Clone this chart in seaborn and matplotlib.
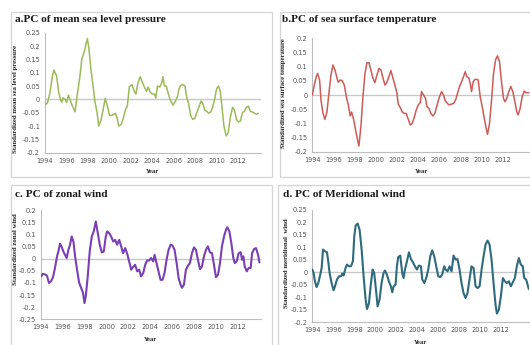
import numpy as np
import pandas as pd
import matplotlib
matplotlib.use("Agg")
import matplotlib.pyplot as plt
import seaborn as sns
from matplotlib.patches import Rectangle

sns.set_theme(style="white")

# ---------------- data ----------------
a_year = [1994.0, 1994.22, 1994.46, 1994.7, 1994.83, 1995.08, 1995.26, 1995.45, 1995.57, 1995.68,
          1995.88, 1996.0, 1996.18, 1996.37, 1996.55, 1996.8, 1996.98, 1997.23, 1997.42, 1997.66,
          1997.94, 1998.09, 1998.28, 1998.46, 1998.65, 1998.83, 1999.0, 1999.2, 1999.38, 1999.6,
          1999.78, 2000.0, 2000.18, 2000.37, 2000.55, 2000.71, 2000.86, 2001.08, 2001.29, 2001.48,
          2001.66, 2001.85, 2002.09, 2002.31, 2002.46, 2002.65, 2002.86, 2003.08, 2003.26, 2003.45,
          2003.6, 2003.78, 2004.0, 2004.18, 2004.31, 2004.46, 2004.68, 2004.86, 2004.98, 2005.11,
          2005.29, 2005.48, 2005.69, 2005.91, 2006.15, 2006.34, 2006.46, 2006.62, 2006.83, 2007.02,
          2007.2, 2007.38, 2007.57, 2007.75, 2007.94, 2008.12, 2008.31, 2008.52, 2008.68, 2008.86,
          2009.05, 2009.23, 2009.42, 2009.6, 2009.78, 2009.97, 2010.15, 2010.31, 2010.46, 2010.65,
          2010.86, 2011.05, 2011.23, 2011.45, 2011.63, 2011.82, 2012.0, 2012.18, 2012.37, 2012.55,
          2012.74, 2012.92, 2013.11, 2013.29, 2013.48, 2013.69, 2013.85]
a_val = [-0.019, -0.015, 0.025, 0.09, 0.11, 0.088, 0.03, -0.003, -0.01, 0.006,
         0.0, -0.012, 0.016, -0.006, -0.025, -0.047, 0.012, 0.08, 0.15, 0.18,
         0.228, 0.19, 0.11, 0.055, -0.01, -0.045, -0.1, -0.08, -0.045, 0.003,
         -0.02, -0.06, -0.06, -0.057, -0.052, -0.07, -0.1, -0.095, -0.07, -0.04,
         -0.025, 0.048, 0.055, 0.03, 0.02, 0.062, 0.085, 0.062, 0.045, 0.03,
         0.046, 0.028, 0.02, 0.02, 0.005, 0.05, 0.046, 0.062, 0.085, 0.05,
         0.05, 0.02, -0.005, -0.022, -0.006, 0.013, 0.038, 0.052, 0.056, 0.05,
         0.006, -0.02, -0.062, -0.075, -0.072, -0.05, -0.03, -0.006, -0.015, -0.04,
         -0.045, -0.052, -0.047, -0.03, 0.0, 0.04, 0.05, 0.03, -0.025, -0.1,
         -0.137, -0.125, -0.07, -0.03, -0.04, -0.075, -0.085, -0.082, -0.05, -0.045,
         -0.03, -0.025, -0.045, -0.047, -0.052, -0.056, -0.052]

b_x = [22, 28, 34, 38, 44, 48, 54, 60, 66, 72, 78, 84, 90, 96, 100, 106, 112, 118, 124, 130,
       136, 140, 146, 152, 158, 162, 168, 174, 180, 186, 192, 198, 204, 210, 216, 222, 228, 234,
       240, 246, 252, 258, 264, 270, 276, 280, 286, 292, 298, 304, 310, 316, 322, 328, 334, 340,
       346, 350, 356, 362, 366, 372, 378, 384, 390, 396, 402, 410, 416, 420, 426, 432, 440, 446,
       452, 458, 464, 470, 476, 481, 486, 492, 497, 500, 505, 510, 516, 520, 526, 532, 538, 544,
       548, 554, 560, 566, 572, 578, 584, 590, 596, 600, 606, 612, 618, 624, 630, 636, 640, 646,
       652, 658, 664, 672]
b_year = [round(1994 + (x - 22) / 31.8, 2) for x in b_x]
b_val = [0.0, 0.035, 0.065, 0.076, 0.053, -0.018, -0.065, -0.086, -0.06, 0.006,
         0.07, 0.106, 0.088, 0.06, 0.045, 0.053, 0.05, 0.035, -0.006, -0.035,
         -0.074, -0.06, -0.086, -0.124, -0.16, -0.18, -0.11, -0.006, 0.076, 0.114,
         0.114, 0.088, 0.06, 0.044, 0.07, 0.094, 0.088, 0.06, 0.035, 0.044,
         0.065, 0.086, 0.06, 0.035, 0.006, -0.032, -0.044, -0.06, -0.065, -0.065,
         -0.086, -0.106, -0.1, -0.08, -0.053, -0.035, -0.027, 0.012, 0.0, -0.012,
         -0.041, -0.047, -0.065, -0.074, -0.065, -0.039, -0.012, 0.012, 0.0, -0.018,
         -0.027, -0.035, -0.032, -0.03, -0.018, 0.006, 0.03, 0.047, 0.065, 0.082,
         0.065, 0.06, 0.035, 0.012, 0.047, 0.055, 0.055, 0.053, -0.006, -0.041,
         -0.082, -0.118, -0.139, -0.1, -0.018, 0.076, 0.124, 0.138, 0.118, 0.047,
         -0.012, -0.024, -0.012, 0.012, 0.03, 0.012, -0.024, -0.06, -0.07, -0.047,
         -0.006, 0.014, 0.008, 0.008]

c_x = [18, 24, 30, 36, 42, 48, 54, 60, 66, 70, 75, 80, 85, 90, 95, 100, 105, 110, 115, 120,
       126, 132, 138, 144, 148, 152, 158, 164, 170, 176, 182, 188, 194, 200, 206, 212, 216, 222,
       228, 234, 240, 246, 252, 258, 264, 270, 276, 282, 288, 294, 300, 306, 312, 318, 324, 330,
       336, 342, 348, 354, 358, 364, 370, 376, 382, 388, 394, 400, 406, 412, 418, 424, 430, 436,
       440, 446, 452, 458, 464, 470, 476, 482, 488, 494, 500, 506, 512, 518, 524, 530, 536, 542,
       548, 554, 560, 566, 572, 576, 582, 588, 594, 598, 604, 610, 616, 620, 624, 628, 634, 640,
       646, 650, 656, 662, 668, 672]
c_year = [round(1994 + (x - 18) / 32.7, 2) for x in c_x]
c_val = [-0.073, -0.062, -0.065, -0.07, -0.1, -0.093, -0.076, -0.038, 0.01, 0.03,
         0.062, 0.048, 0.03, 0.016, 0.003, 0.037, 0.058, 0.092, 0.071, 0.01,
         -0.045, -0.098, -0.12, -0.141, -0.183, -0.155, -0.073, 0.03, 0.092, 0.113,
         0.154, 0.106, 0.058, 0.026, 0.03, 0.092, 0.113, 0.106, 0.092, 0.071,
         0.078, 0.058, 0.078, 0.051, 0.023, 0.044, 0.021, -0.011, -0.045, -0.034,
         -0.025, -0.052, -0.045, -0.073, -0.059, -0.025, -0.007, -0.007, 0.003, -0.011,
         0.016, -0.018, -0.052, -0.087, -0.087, -0.059, -0.004, 0.037, 0.058, 0.054,
         0.037, -0.018, -0.08, -0.107, -0.12, -0.107, -0.045, -0.029, -0.018, 0.023,
         0.047, 0.037, -0.004, -0.043, -0.032, 0.01, 0.037, 0.051, 0.026, 0.023,
         -0.025, -0.076, -0.066, -0.018, 0.051, 0.092, 0.12, 0.13, 0.113, 0.065,
         0.003, -0.018, -0.011, 0.023, 0.027, -0.004, 0.01, -0.032, -0.052, -0.038,
         -0.038, 0.023, 0.04, 0.044, 0.016, -0.015]

d_x = [22, 26, 30, 35, 40, 46, 50, 54, 60, 66, 70, 74, 80, 86, 90, 96, 102, 108, 112, 116,
       122, 126, 132, 138, 144, 148, 152, 158, 164, 170, 176, 182, 186, 192, 198, 203, 208, 214,
       218, 224, 230, 236, 240, 246, 252, 258, 262, 266, 272, 276, 280, 286, 292, 296, 300, 306,
       312, 318, 324, 330, 336, 342, 348, 352, 358, 364, 370, 376, 382, 388, 394, 400, 406, 412,
       418, 422, 428, 434, 440, 446, 452, 458, 464, 470, 476, 482, 488, 494, 500, 506, 512, 518,
       524, 530, 536, 542, 548, 554, 560, 566, 572, 576, 582, 588, 594, 600, 606, 612, 618, 624,
       630, 636, 642, 648, 654, 658, 664, 668, 672]
d_year = [round(1994 + (x - 22) / 31.5, 2) for x in d_x]
d_val = [0.011, -0.003, -0.036, -0.059, -0.043, -0.009, 0.017, 0.091, 0.084, 0.08,
         0.044, -0.003, -0.043, -0.072, -0.056, -0.029, -0.016, -0.016, -0.005, -0.013,
         0.017, 0.031, 0.024, 0.024, 0.044, 0.144, 0.187, 0.195, 0.17, 0.091,
         -0.016, -0.109, -0.147, -0.123, -0.043, 0.011, -0.003, -0.083, -0.136, -0.109,
         -0.043, -0.003, 0.007, -0.009, -0.036, -0.056, -0.08, -0.056, -0.049, 0.024,
         0.061, 0.067, -0.003, -0.023, 0.011, 0.044, 0.08, 0.053, 0.04, 0.024,
         0.011, 0.027, 0.024, -0.029, -0.043, -0.023, 0.011, 0.064, 0.088, 0.064,
         0.024, -0.016, -0.019, -0.009, 0.024, 0.011, 0.004, 0.024, 0.004, 0.067,
         0.051, 0.053, 0.011, -0.043, -0.083, -0.103, -0.083, -0.029, 0.024, 0.017,
         -0.056, -0.063, -0.056, 0.011, 0.064, 0.111, 0.127, 0.111, 0.051, -0.043,
         -0.129, -0.165, -0.149, -0.096, -0.023, -0.036, -0.043, -0.036, -0.056, -0.04,
         -0.023, 0.024, 0.057, 0.031, 0.024, -0.023, -0.029, -0.049, -0.067]

titles = ["a.PC of mean sea level pressure", "b.PC of sea surface temperature",
          "c. PC of zonal wind", "d. PC of Meridional wind"]
ylabels = ["Standardized mean sea level pressure", "Standardized sea surface temperature",
           "Standardized zonal wind", "Standardized meridional  wind"]
colors = ["#9BBB59", "#CD5B58", "#7B3FB5", "#2F6B7E"]

# ---------------- figure ----------------
W, H = 530, 345
fig = plt.figure(figsize=(W / 100, H / 100), dpi=100)
fig.patch.set_facecolor("white")

def box(x0, y0, x1, y1):
    return [x0 / W, 1 - y1 / H, (x1 - x0) / W, (y1 - y0) / H]

serif = ["Liberation Serif", "DejaVu Serif"]

panels = [
    dict(rect=box(45, 32.7, 261, 152.7), ylim=(-0.2, 0.25), xlim=(1994, 2014.1), years=a_year, vals=a_val,
         border=(11, 12, 272, 177), title_xy=(15, 20), ylab_xy=(15.5, 99), year_y=171.5, lw=1.1),
    dict(rect=box(312.3, 38.3, 530, 151.7), ylim=(-0.2, 0.2), xlim=(1994, 2014.55), years=b_year, vals=b_val,
         border=(280, 12, 540, 177), title_xy=(282, 20), ylab_xy=(284, 93), year_y=171.5, lw=1.1),
    dict(rect=box(41, 210.3, 260.5, 319.3), ylim=(-0.25, 0.2), xlim=(1994, 2014.1), years=c_year, vals=c_val,
         border=(11, 185, 272, 360), title_xy=(15, 195), ylab_xy=(15.5, 249), year_y=339.5, lw=1.5),
    dict(rect=box(312.3, 209.8, 529, 322.3), ylim=(-0.2, 0.25), xlim=(1994, 2014.65), years=d_year, vals=d_val,
         border=(278, 185, 540, 360), title_xy=(283, 195), ylab_xy=(286, 263), year_y=342, lw=1.5),
]

for i, p in enumerate(panels):
    x0, y0, x1, y1 = p["border"]
    fig.patches.append(Rectangle((x0 / W, 1 - y1 / H), (x1 - x0) / W, (y1 - y0) / H,
                                 transform=fig.transFigure, fill=False, edgecolor="#D4D4D4",
                                 linewidth=0.9, zorder=0))
    ax = fig.add_axes(p["rect"])
    ax.set_facecolor("none")
    df = pd.DataFrame({"Year": p["years"], "Value": p["vals"]})
    ax.axhline(0, color="#C8C8C8", lw=1.0, zorder=1)
    sns.lineplot(data=df, x="Year", y="Value", ax=ax, color=colors[i], lw=p["lw"], zorder=3)
    ax.set_xlim(*p["xlim"])
    ax.set_ylim(*p["ylim"])
    lo, hi = p["ylim"]
    yt = np.round(np.arange(lo, hi + 0.001, 0.05), 2)
    ax.set_yticks(yt)
    ax.set_yticklabels([("0" if abs(v) < 1e-9 else f"{v:g}") for v in yt])
    ax.set_xticks(range(1994, 2014))
    ax.set_xticklabels([str(y) if y % 2 == 0 else "" for y in range(1994, 2014)])
    ax.tick_params(axis="both", which="major", labelsize=4.8, labelcolor="#555555",
                   color="#BDBDBD", length=2, width=0.6, direction="out", pad=1.5)
    for s in ["top", "right"]:
        ax.spines[s].set_visible(False)
    for s in ["left", "bottom"]:
        ax.spines[s].set_color("#BDBDBD")
        ax.spines[s].set_linewidth(0.8)
    ax.set_xlabel("")
    ax.set_ylabel("")
    tx, ty = p["title_xy"]
    fig.text(tx / W, 1 - ty / H, titles[i], family=serif, fontweight="bold", fontsize=8.1,
             color="#1a1a1a", ha="left", va="center")
    lx, ly = p["ylab_xy"]
    fig.text(lx / W, 1 - ly / H, ylabels[i], family=serif, fontweight="bold", fontsize=4.9,
             color="#222222", ha="center", va="center", rotation=90)
    cx = (p["rect"][0] + p["rect"][0] + p["rect"][2]) / 2
    fig.text(cx, 1 - p["year_y"] / H, "Year", family=serif, fontweight="bold", fontsize=4.8,
             color="#222222", ha="center", va="center")

fig.savefig("out.png", dpi=100, facecolor="white")
